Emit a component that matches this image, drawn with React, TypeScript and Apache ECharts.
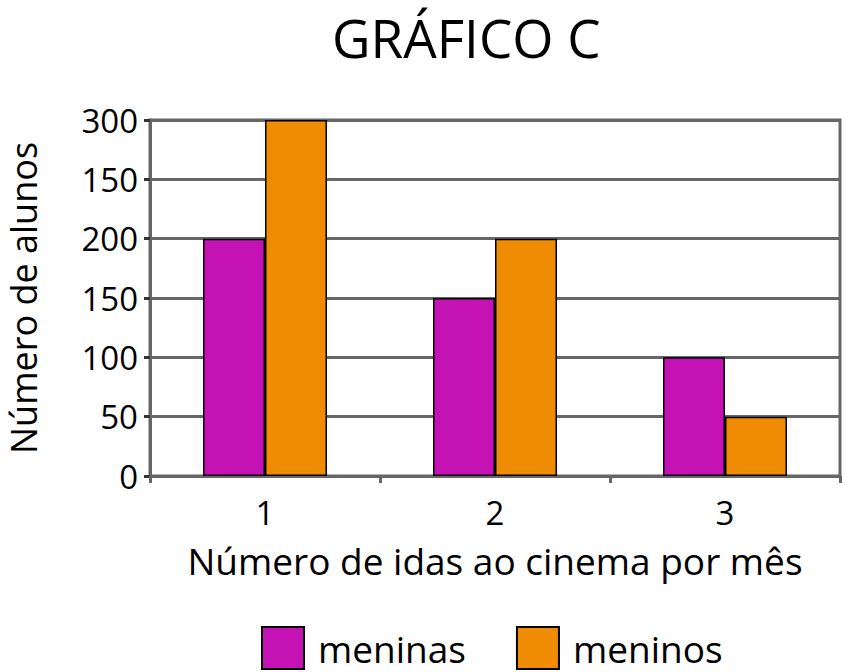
import React, { useEffect, useRef } from "react";
import * as echarts from "echarts";

const categories = ["1", "2", "3"];
const meninas = [200, 150, 100];
const meninos = [300, 200, 50];
const tickLabels = ["0", "50", "100", "150", "200", "150", "300"];
const seriesNames = ["meninas", "meninos"];

const FONT = "'Open Sans', 'Noto Sans', sans-serif";

export default function App() {
  const ref = useRef<HTMLDivElement>(null);
  useEffect(() => {
    document.body.style.margin = "0";
    if (!ref.current) return;
    const chart = echarts.init(ref.current, undefined, { renderer: "svg" });
    chart.setOption({
      animation: false,
      textStyle: { fontFamily: FONT, color: "#000" },
      title: {
        text: "GRÁFICO C",
        left: 327,
        top: 4,
        textStyle: { fontFamily: FONT, fontSize: 53, lineHeight: 56, fontWeight: "normal", color: "#000" },
      },
      legend: {
        data: seriesNames,
        left: 256,
        top: 621,
        itemWidth: 42,
        itemHeight: 42,
        itemGap: 50,
        icon: "rect",
        textStyle: { fontFamily: FONT, fontSize: 37, color: "#000", padding: [0, 0, 0, 9] },
      },
      grid: {
        left: 150,
        top: 120,
        width: 690,
        height: 356,
        show: true,
        borderColor: "#666",
        borderWidth: 3,
        outerBoundsMode: "none",
        containLabel: false,
      },
      xAxis: {
        type: "category",
        data: categories,
        name: "Número de idas ao cinema por mês",
        nameLocation: "middle",
        nameGap: 66,
        nameTextStyle: { fontFamily: FONT, fontSize: 37, color: "#000" },
        axisLine: { lineStyle: { color: "#666", width: 3 } },
        axisTick: { show: true, length: 7, lineStyle: { color: "#666", width: 3 } },
        axisLabel: { fontFamily: FONT, fontSize: 33, color: "#000", margin: 20 },
      },
      yAxis: {
        type: "value",
        min: 0,
        max: 300,
        interval: 50,
        name: "Número de alunos",
        nameLocation: "middle",
        nameGap: 109,
        nameTextStyle: { fontFamily: FONT, fontSize: 36, lineHeight: 36, color: "#000" },
        axisLine: { show: true, lineStyle: { color: "#666", width: 3 } },
        axisTick: { show: true, length: 6, lineStyle: { color: "#333", width: 3 } },
        splitLine: { show: true, lineStyle: { color: "#666", width: 3 } },
        axisLabel: {
          fontFamily: FONT,
          fontSize: 33,
          color: "#000",
          margin: 12,
          formatter: (v: number) => tickLabels[Math.round(v / 50)] ?? String(v),
        },
      },
      series: [
        {
          name: seriesNames[0],
          type: "bar",
          data: meninas,
          barWidth: 62,
          barGap: "0%",
          itemStyle: { color: "#C512B5", borderColor: "#000", borderWidth: 1.5 },
        },
        {
          name: seriesNames[1],
          type: "bar",
          data: meninos,
          barWidth: 62,
          barGap: "0%",
          itemStyle: { color: "#EF8C04", borderColor: "#000", borderWidth: 1.5 },
        },
      ],
    });
    return () => chart.dispose();
  }, []);
  return <div ref={ref} style={{ width: 848, height: 672 }} />;
}
